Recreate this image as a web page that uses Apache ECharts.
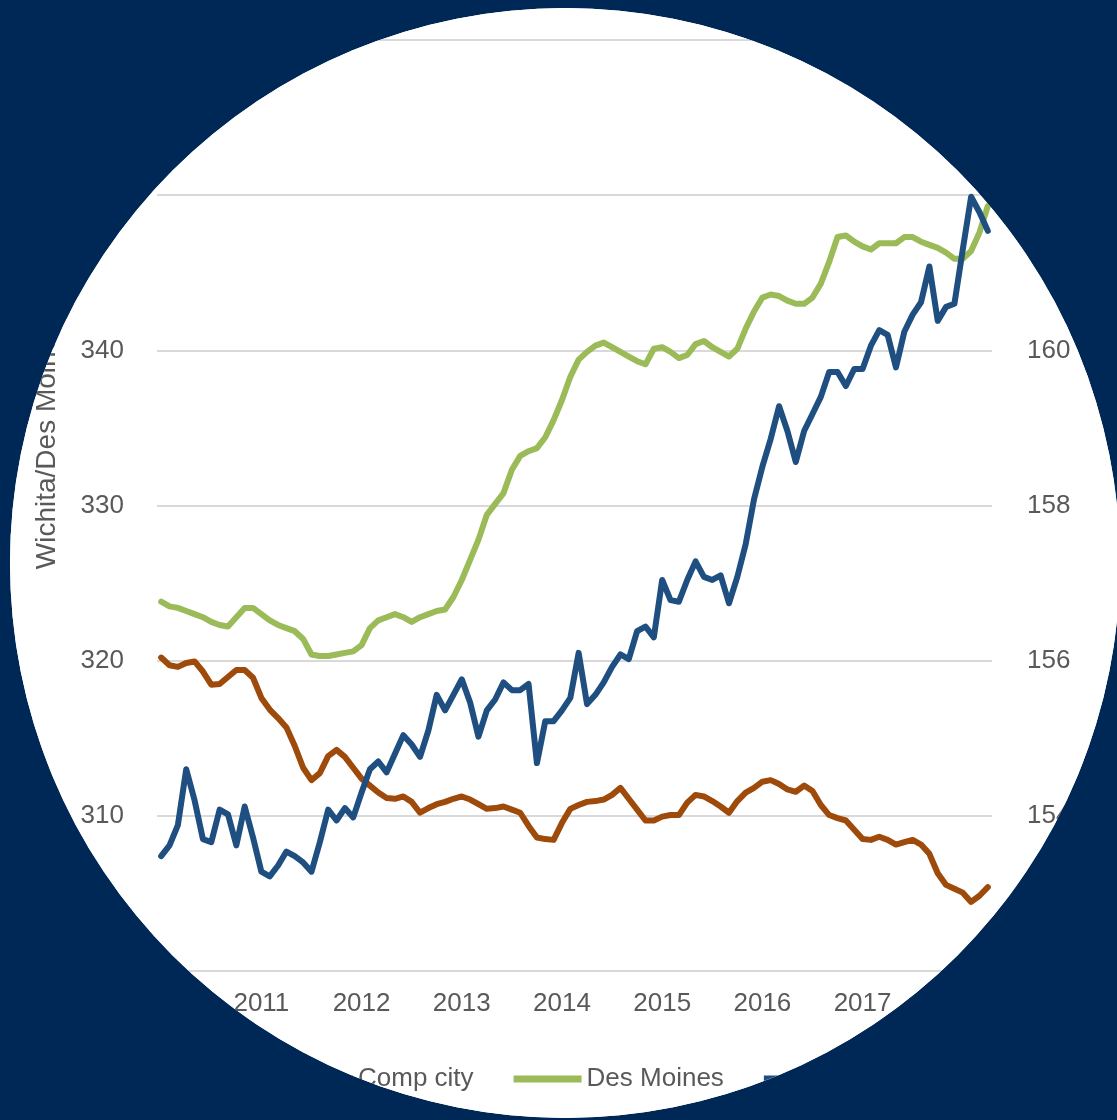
<!DOCTYPE html>
<html>
<head>
<meta charset="utf-8">
<script src="https://cdn.jsdelivr.net/npm/echarts@6/dist/echarts.min.js"></script>
<style>
  html, body { margin: 0; padding: 0; background: #002856; }
  #chart { width: 1117px; height: 1120px; background: #ffffff; clip-path: circle(555px at 565px 563px); }
</style>
</head>
<body>
<div id="chart"></div>
<script>
// Monthly categories Jan 2010 .. Apr 2018
const years = ['2010','2011','2012','2013','2014','2015','2016','2017','2018'];
const monthNums = ['01','02','03','04','05','06','07','08','09','10','11','12'];
const categories = [];
years.forEach(function (y) { monthNums.forEach(function (m) { categories.push(y + '-' + m); }); });
categories.length = 100;

const seriesNames = ['Comp city', 'Des Moines', 'Wichita'];

// Comp city (right axis)
const compCity = [
  156.04,155.94,155.92,155.97,155.99,155.86,155.69,155.70,155.79,155.88,
  155.88,155.78,155.52,155.37,155.26,155.14,154.90,154.62,154.46,154.55,
  154.77,154.85,154.76,154.62,154.48,154.39,154.30,154.23,154.22,154.25,
  154.18,154.04,154.10,154.15,154.18,154.22,154.25,154.21,154.15,154.09,
  154.10,154.12,154.08,154.04,153.87,153.72,153.70,153.69,153.91,154.09,
  154.14,154.18,154.19,154.21,154.27,154.36,154.22,154.08,153.94,153.94,
  153.99,154.01,154.01,154.17,154.27,154.25,154.19,154.12,154.04,154.19,
  154.30,154.36,154.44,154.46,154.41,154.34,154.31,154.39,154.32,154.14,
  154.01,153.97,153.94,153.82,153.70,153.69,153.73,153.69,153.63,153.66,
  153.69,153.63,153.51,153.26,153.11,153.06,153.01,152.89,152.97,153.08
];

// Des Moines (left axis)
const desMoines = [
  323.8,323.5,323.4,323.2,323.0,322.8,322.5,322.3,322.2,322.8,
  323.4,323.4,323.0,322.6,322.3,322.1,321.9,321.4,320.4,320.3,
  320.3,320.4,320.5,320.6,321.0,322.1,322.6,322.8,323.0,322.8,
  322.5,322.8,323.0,323.2,323.3,324.1,325.2,326.5,327.8,329.4,
  330.1,330.8,332.3,333.2,333.5,333.7,334.4,335.5,336.8,338.3,
  339.4,339.9,340.3,340.5,340.2,339.9,339.6,339.3,339.1,340.1,
  340.2,339.9,339.5,339.7,340.4,340.6,340.2,339.9,339.6,340.1,
  341.4,342.5,343.4,343.6,343.5,343.2,343.0,343.0,343.4,344.3,
  345.7,347.3,347.4,347.0,346.7,346.5,346.9,346.9,346.9,347.3,
  347.3,347.0,346.8,346.6,346.3,345.9,345.9,346.4,347.6,349.3
];

// Wichita (left axis)
const wichita = [
  307.4,308.1,309.4,313.0,311.0,308.5,308.3,310.4,310.1,308.1,
  310.6,308.6,306.4,306.1,306.8,307.7,307.4,307.0,306.4,308.3,
  310.4,309.7,310.5,309.9,311.5,313.0,313.5,312.8,314.0,315.2,
  314.6,313.8,315.5,317.8,316.8,317.8,318.8,317.3,315.1,316.8,
  317.5,318.6,318.1,318.1,318.5,313.4,316.1,316.1,316.8,317.6,
  320.5,317.2,317.8,318.6,319.6,320.4,320.1,321.9,322.2,321.5,
  325.2,323.9,323.8,325.2,326.4,325.4,325.2,325.5,323.7,325.4,
  327.5,330.4,332.5,334.3,336.4,334.8,332.8,334.8,335.9,337.0,
  338.6,338.6,337.7,338.8,338.8,340.3,341.3,341.0,338.9,341.2,
  342.3,343.1,345.4,341.9,342.8,343.0,346.5,349.9,348.9,347.7
];

const leftAxisName = 'Wichita/Des Moines';
const colors = ['#9E4A0B', '#9BBB59', '#1F4E80'];
const fontFamily = "'Liberation Sans', Arial, sans-serif";
const labelColor = '#595959';
const gridColor = '#D9D9D9';

const chart = echarts.init(document.getElementById('chart'), null, { renderer: 'canvas' });

function lineSeries(name, data, axisIndex, color) {
  return {
    name: name, type: 'line', data: data, yAxisIndex: axisIndex,
    showSymbol: false, symbol: 'none', smooth: false,
    lineStyle: { color: color, width: 6, join: 'round', cap: 'round' },
    itemStyle: { color: color },
    emphasis: { disabled: true }, animation: false
  };
}

chart.setOption({
  backgroundColor: '#ffffff',
  animation: false,
  textStyle: { fontFamily: fontFamily },
  grid: { left: 157, right: 125, top: 40, bottom: 149, outerBoundsMode: 'none' },
  legend: {
    data: seriesNames,
    left: 280, top: 1061,
    icon: 'rect', itemWidth: 68, itemHeight: 7, itemGap: 40,
    textStyle: { fontSize: 26, color: labelColor, fontFamily: fontFamily }
  },
  xAxis: {
    type: 'category', data: categories, boundaryGap: true,
    axisLine: { show: true, lineStyle: { color: gridColor, width: 2 } },
    axisTick: { show: false },
    axisLabel: {
      interval: function (index) { return index % 12 === 0; },
      formatter: function (v) { return v.slice(0, 4); },
      fontSize: 26, color: labelColor, margin: 20, fontFamily: fontFamily
    },
    splitLine: { show: false }
  },
  yAxis: [
    {
      type: 'value', min: 300, max: 360, interval: 10, position: 'left',
      name: leftAxisName, nameLocation: 'middle', nameRotate: 90, nameGap: 96,
      nameTextStyle: { fontSize: 28, color: labelColor, fontFamily: fontFamily, padding: [0, 0, 0, 120] },
      axisLine: { show: false }, axisTick: { show: false },
      axisLabel: { fontSize: 26, color: labelColor, margin: 33, fontFamily: fontFamily },
      splitLine: { show: true, lineStyle: { color: gridColor, width: 2 } }
    },
    {
      type: 'value', min: 152, max: 164, interval: 2, position: 'right',
      axisLine: { show: false }, axisTick: { show: false },
      axisLabel: { fontSize: 26, color: labelColor, margin: 35, fontFamily: fontFamily },
      splitLine: { show: false }
    }
  ],
  series: [
    lineSeries(seriesNames[0], compCity, 1, colors[0]),
    lineSeries(seriesNames[1], desMoines, 0, colors[1]),
    lineSeries(seriesNames[2], wichita, 0, colors[2])
  ]
});
</script>
</body>
</html>
